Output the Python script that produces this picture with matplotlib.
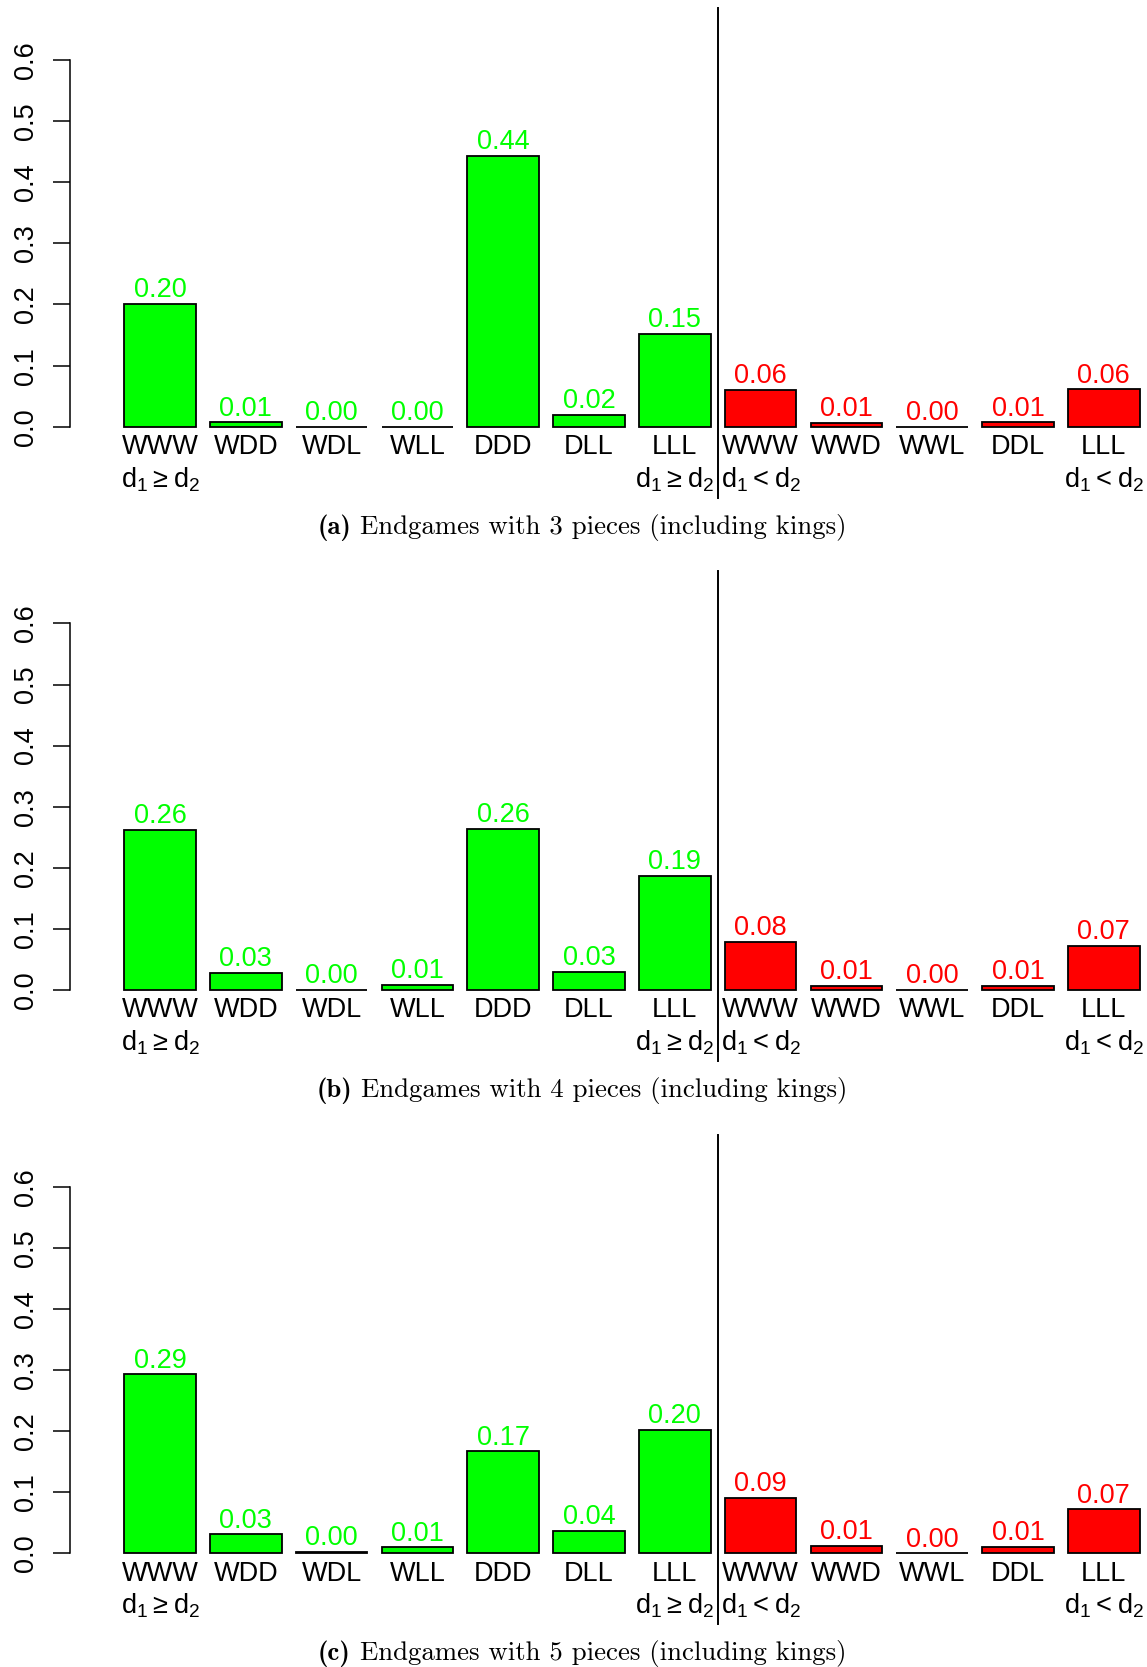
import matplotlib
matplotlib.use("Agg")
import matplotlib.pyplot as plt
from matplotlib.transforms import offset_copy

# ---- data -------------------------------------------------------------
green_cats = ["WWW", "WDD", "WDL", "WLL", "DDD", "DLL", "LLL"]
red_cats = ["WWW", "WWD", "WWL", "DDL", "LLL"]

pieces = [3, 4, 5]
panel_tags = ["(a)", "(b)", "(c)"]

green_3 = [0.201, 0.007, 0.000, 0.000, 0.443, 0.019, 0.152]
red_3 = [0.060, 0.006, 0.000, 0.007, 0.061]

green_4 = [0.262, 0.028, 0.000, 0.009, 0.264, 0.030, 0.187]
red_4 = [0.079, 0.007, 0.000, 0.007, 0.072]

green_5 = [0.293, 0.031, 0.002, 0.010, 0.167, 0.037, 0.202]
red_5 = [0.091, 0.012, 0.000, 0.011, 0.072]

y_ticks = [0.0, 0.1, 0.2, 0.3, 0.4, 0.5, 0.6]
y_tick_labels = ["0.0", "0.1", "0.2", "0.3", "0.4", "0.5", "0.6"]

ge_label = r"$\mathregular{d_1 \geq d_2}$"
lt_label = r"$\mathregular{d_1 < d_2}$"

panels = [(green_3, red_3), (green_4, red_4), (green_5, red_5)]

# ---- style ------------------------------------------------------------
GREEN = "#00FF00"
RED = "#FF0000"
SANS = "Liberation Sans"
FS = 19.5
CAP_FS = 19.3
EDGE_LW = 1.3

W_PX, H_PX, DPI = 1147, 1667, 100
fig = plt.figure(figsize=(W_PX / DPI, H_PX / DPI), dpi=DPI)
renderer = fig.canvas.get_renderer()

AX_LEFT_PX = 70.0
PX_PER_UNIT = 71.5          # horizontal pixels per bar-width unit
PX_PER_01 = 61.1            # vertical pixels per 0.1
ZERO0_PX = 426.7            # zero line of first panel
PANEL_STEP_PX = 563.3
CAP_CENTER_PX = 582.0
CAP_BELOW_PX = 107.0

x_left = 0.2 - (124.3 - AX_LEFT_PX) / PX_PER_UNIT
x_right = x_left + (W_PX - AX_LEFT_PX) / PX_PER_UNIT
ax_h_px = 6 * PX_PER_01

n_all = len(green_cats) + len(red_cats)
lefts = [0.2 + 1.2 * i for i in range(n_all)]
centers = [l + 0.5 for l in lefts]
sep_x = (lefts[len(green_cats) - 1] + 1.0 + lefts[len(green_cats)]) / 2

for k, (gvals, rvals) in enumerate(panels):
    zero_px = ZERO0_PX + k * PANEL_STEP_PX
    ax = fig.add_axes([AX_LEFT_PX / W_PX, 1 - zero_px / H_PX,
                       (W_PX - AX_LEFT_PX) / W_PX, ax_h_px / H_PX])
    ax.set_xlim(x_left, x_right)
    ax.set_ylim(0, 0.6)
    ax.patch.set_visible(False)
    for s in ("top", "right", "bottom"):
        ax.spines[s].set_visible(False)
    ax.spines["left"].set_linewidth(1.1)
    ax.set_xticks([])
    ax.set_yticks(y_ticks)
    ax.tick_params(axis="y", length=12.2, width=1.1, labelleft=False)

    # rotated y tick labels
    ylab_tr = offset_copy(ax.transData, fig=fig, x=-37.5, y=0, units="dots")
    for yt, yl in zip(y_ticks, y_tick_labels):
        ax.text(x_left, yt, yl, transform=ylab_tr, rotation=90,
                rotation_mode="anchor", ha="center", va="baseline",
                fontsize=FS, family=SANS, clip_on=False)

    vals = list(gvals) + list(rvals)
    cats = green_cats + red_cats
    colors = [GREEN] * len(gvals) + [RED] * len(rvals)
    ax.bar(lefts, vals, width=1.0, align="edge", color=colors,
           edgecolor="black", linewidth=EDGE_LW, clip_on=False, zorder=2)

    val_tr = offset_copy(ax.transData, fig=fig, x=0, y=6.6, units="dots")
    cat_tr = offset_copy(ax.transData, fig=fig, x=0, y=-27.3, units="dots")
    dlab_tr = offset_copy(ax.transData, fig=fig, x=0, y=-60.6, units="dots")
    for c, v, col, name in zip(centers, vals, colors, cats):
        ax.text(c, v, f"{v:.2f}", transform=val_tr, ha="center",
                va="baseline", color=col, fontsize=FS, family=SANS,
                clip_on=False)
        ax.text(c, 0, name, transform=cat_tr, ha="center", va="baseline",
                fontsize=FS, family=SANS, clip_on=False)

    # group boundary annotations
    ng = len(green_cats)
    for idx, lab in ((0, ge_label), (ng - 1, ge_label),
                     (ng, lt_label), (n_all - 1, lt_label)):
        ax.text(centers[idx], 0, lab, transform=dlab_tr, ha="center",
                va="baseline", fontsize=FS, family=SANS, clip_on=False)

    # separator between the two groups
    ax.plot([sep_x, sep_x], [0.685, -0.116], color="black", lw=1.4,
            clip_on=False, zorder=3)

    # caption: bold tag followed by roman text, centred as one line
    cap_y = 1 - (zero_px + CAP_BELOW_PX) / H_PX
    t_tag = fig.text(0, cap_y, panel_tags[k], family="cmb10",
                     fontsize=CAP_FS, ha="left", va="baseline")
    t_body = fig.text(0, cap_y,
                      f"\u2009Endgames with {pieces[k]} pieces (including kings)",
                      family="cmr10", fontsize=CAP_FS, ha="left",
                      va="baseline")
    w_tag = t_tag.get_window_extent(renderer).width
    w_gap = CAP_FS * 0.33 * DPI / 72
    t_body.set_text(f"Endgames with {pieces[k]} pieces (including kings)")
    w_body = t_body.get_window_extent(renderer).width
    start = CAP_CENTER_PX - (w_tag + w_gap + w_body) / 2
    t_tag.set_x(start / W_PX)
    t_body.set_x((start + w_tag + w_gap) / W_PX)

fig.savefig("out.png", dpi=DPI)
